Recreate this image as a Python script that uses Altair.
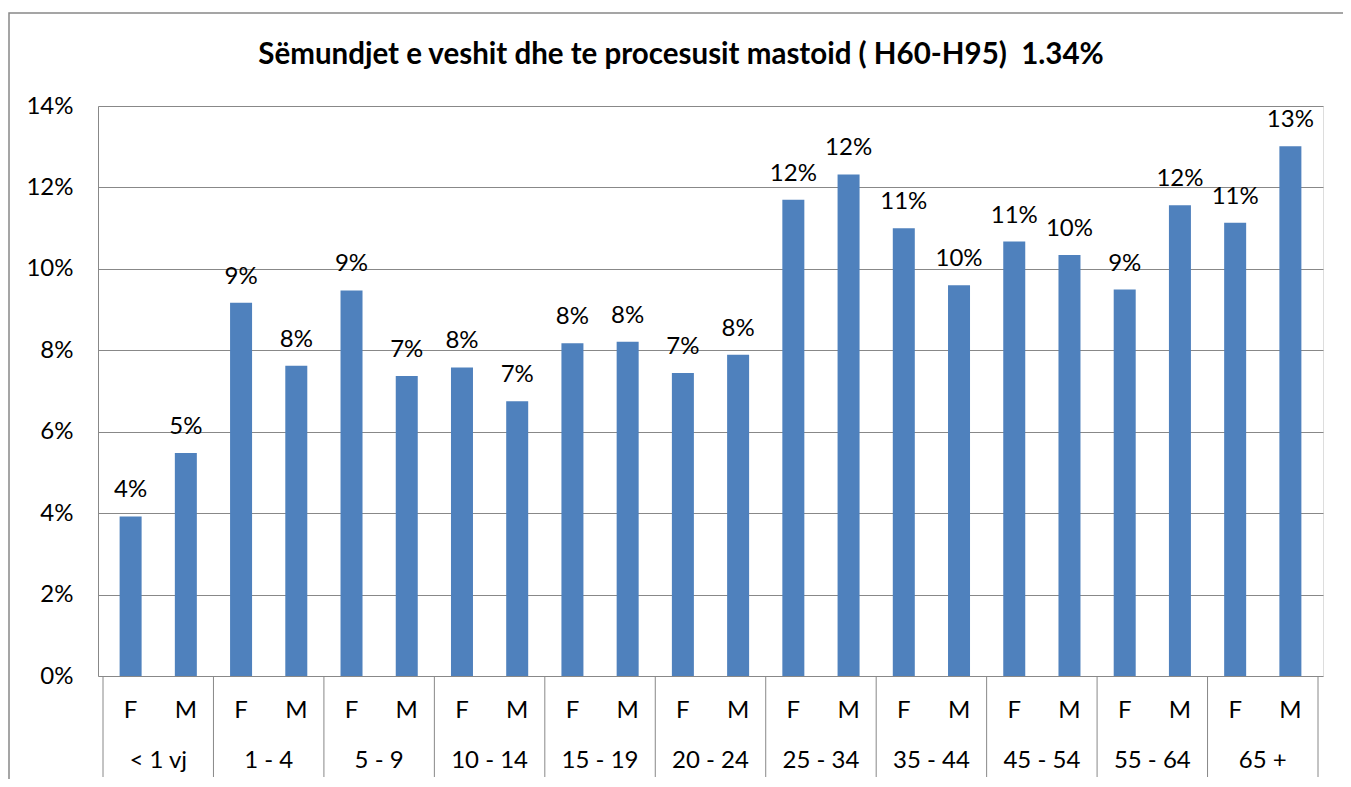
import altair as alt
import pandas as pd

age_groups = ["< 1 vj", "1 - 4", "5 - 9", "10 - 14", "15 - 19", "20 - 24",
              "25 - 34", "35 - 44", "45 - 54", "55 - 64", "65 +"]
sexes = ["F", "M"]
values_F = [3.92, 9.17, 9.47, 7.58, 8.17, 7.44, 11.70, 11.00, 10.67, 9.49, 11.13]
values_M = [5.48, 7.62, 7.37, 6.75, 8.21, 7.89, 12.32, 9.60, 10.34, 11.56, 13.01]
y_ticks = [0, 0.02, 0.04, 0.06, 0.08, 0.10, 0.12, 0.14]
title_text = "Sëmundjet e veshit dhe te procesusit mastoid ( H60-H95)\u00a0 1.34%"

rows = []
for gi, g in enumerate(age_groups):
    for si, (s, vals) in enumerate(zip(sexes, [values_F, values_M])):
        rows.append({"group": g, "sex": s, "pos": gi * 2 + si + 0.5, "value": vals[gi] / 100})
df = pd.DataFrame(rows)
groups_df = pd.DataFrame({"group": age_groups, "center": [i * 2 + 1 for i in range(len(age_groups))]})
seps_df = pd.DataFrame({"b": [i * 2 for i in range(len(age_groups) + 1)]})
title_df = pd.DataFrame({"t": [title_text]})

FONT = "Lato"
FS = 24
W, H = 1225, 570
xscale = alt.Scale(domain=[0, 2 * len(age_groups)], nice=False, zero=False)
yscale = alt.Scale(domain=[0, 0.14], nice=False)

base = alt.Chart(df)

bars = base.mark_bar(color="#4F81BD", size=22).encode(
    x=alt.X("pos:Q", scale=xscale, axis=None),
    y=alt.Y("value:Q", scale=yscale,
            axis=alt.Axis(values=y_ticks, format=".0%", title=None, grid=True,
                          gridColor="#888888", gridWidth=1, domainColor="#888888",
                          ticks=False, labelPadding=25, labelFontSize=FS,
                          labelFont=FONT, labelColor="#000000")),
)

labels = base.mark_text(baseline="alphabetic", dy=-19, fontSize=FS, font=FONT, color="#000000").encode(
    x=alt.X("pos:Q", scale=xscale),
    y=alt.Y("value:Q", scale=yscale),
    text=alt.Text("value:Q", format=".0%"),
)

sex_labels = base.mark_text(baseline="middle", fontSize=FS, font=FONT, color="#000000").encode(
    x=alt.X("pos:Q", scale=xscale),
    y=alt.value(605),
    text="sex:N",
)

group_labels = alt.Chart(groups_df).mark_text(baseline="middle", fontSize=FS, font=FONT, color="#000000").encode(
    x=alt.X("center:Q", scale=xscale),
    y=alt.value(655),
    text="group:N",
)

separators = alt.Chart(seps_df).mark_rule(color="#888888", strokeWidth=1).encode(
    x=alt.X("b:Q", scale=xscale),
    y=alt.value(H),
    y2=alt.value(671),
)

border = alt.Chart(seps_df.head(1)).mark_rect(fill=None, stroke="#888888", strokeWidth=1.5).encode(
    x=alt.value(-89), x2=alt.value(1400), y=alt.value(-93), y2=alt.value(900),
)

title = alt.Chart(title_df).mark_text(fontSize=29.5, font=FONT, fontWeight="bold", color="#000000",
                                      baseline="alphabetic", align="center").encode(
    x=alt.value(583), y=alt.value(-42), text="t:N",
)

chart = alt.layer(border, bars, labels, sex_labels, group_labels, separators, title).properties(
    width=W, height=H,
    autosize=alt.AutoSizeParams(type="none"),
    padding={"left": 90, "top": 98, "right": 20, "bottom": 103},
).configure_view(stroke=None).configure(background="#ffffff")

chart.save("out.html", embed_options={"renderer": "svg", "actions": False})
